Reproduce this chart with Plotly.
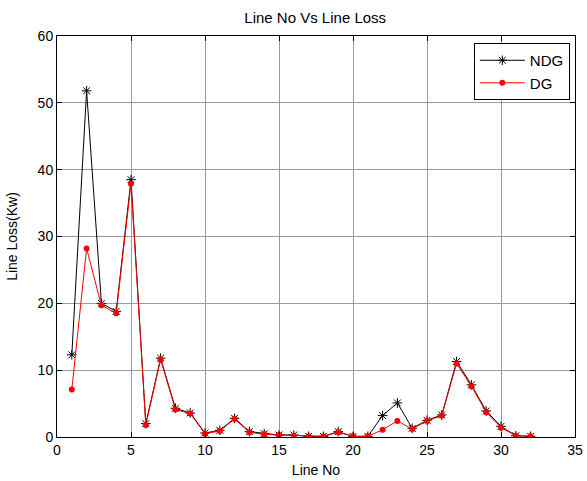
import plotly.graph_objects as go

line_no = list(range(1, 33))
ndg = [12.3, 51.8, 20.0, 18.8, 38.5, 2.0, 11.8, 4.3, 3.6, 0.6, 1.0, 2.8, 0.8, 0.5, 0.3, 0.3,
       0.1, 0.1, 0.8, 0.1, 0.1, 3.2, 5.1, 1.3, 2.5, 3.3, 11.3, 7.8, 3.9, 1.6, 0.2, 0.1]
dg = [7.1, 28.2, 19.7, 18.5, 37.9, 1.8, 11.6, 4.1, 3.5, 0.5, 0.9, 2.7, 0.7, 0.4, 0.3, 0.2,
      0.1, 0.1, 0.7, 0.1, 0.1, 1.1, 2.4, 1.2, 2.4, 3.2, 11.0, 7.6, 3.7, 1.4, 0.2, 0.1]

FONT = "Liberation Sans, Arial"

fig = go.Figure()
fig.add_trace(go.Scatter(x=line_no, y=ndg, name="NDG", mode="lines+markers",
                         line=dict(color="black", width=1),
                         marker=dict(symbol="asterisk-open", size=8, color="black",
                                     line=dict(color="black", width=1))))
fig.add_trace(go.Scatter(x=line_no, y=dg, name="DG", mode="lines+markers",
                         line=dict(color="red", width=1),
                         marker=dict(symbol="circle", size=6, color="red")))

axis_common = dict(showline=True, linecolor="black", linewidth=1, mirror="ticks",
                   ticks="inside", ticklen=5, tickcolor="black",
                   showgrid=True, gridcolor="#9a9a9a", gridwidth=1, zeroline=False,
                   automargin=False,
                   tickfont=dict(family=FONT, size=14, color="black"))

fig.update_layout(
    width=587, height=481,
    margin=dict(l=57, r=12, t=36, b=44),
    paper_bgcolor="white", plot_bgcolor="white",
    title=dict(text="Line No Vs Line Loss", x=0.537, xanchor="center", y=0.963, yanchor="middle",
               font=dict(family=FONT, size=15, color="black")),
    xaxis=dict(range=[0, 35], dtick=5,
               title=dict(text="Line No", font=dict(family=FONT, size=14, color="black"),
                          standoff=8),
               **axis_common),
    yaxis=dict(range=[0, 60], dtick=10,
               title=dict(text="Line Loss(Kw)", font=dict(family=FONT, size=14, color="black"),
                          standoff=16),
               **axis_common),
    legend=dict(x=0.990, y=0.9825, xanchor="right", yanchor="top",
                bgcolor="white", bordercolor="black", borderwidth=1,
                font=dict(family=FONT, size=15, color="black"),
                itemwidth=45),
    showlegend=True,
)

fig.write_html("out.html", config={"displayModeBar": False},
               post_script="document.body.style.margin='0';document.body.style.overflow='hidden';")
